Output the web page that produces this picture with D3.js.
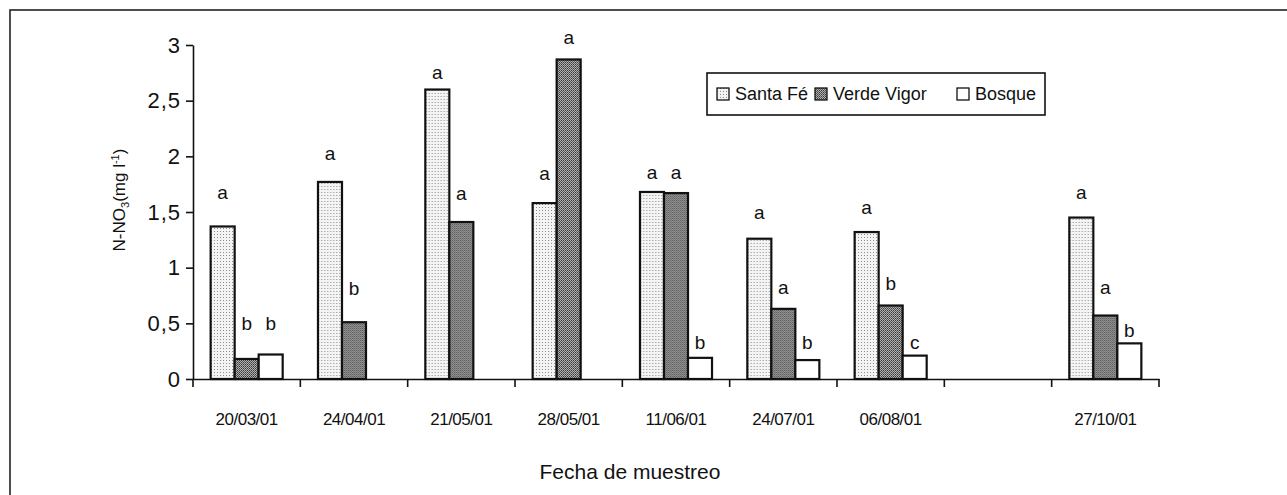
<!DOCTYPE html>
<html>
<head>
<meta charset="utf-8">
<script src="https://cdn.jsdelivr.net/npm/d3@7"></script>
<style>
  body { margin: 0; background: #fff; }
  text { font-family: "Liberation Sans", Arial, sans-serif; fill: #111; }
</style>
</head>
<body>
<script>
var width = 1287,
    height = 495;

// sampling dates (the empty one is a gap in the original chart)
var categories = ["20/03/01", "24/04/01", "21/05/01", "28/05/01", "11/06/01", "24/07/01", "06/08/01", "", "27/10/01"];
var seriesNames = ["Santa Fé", "Verde Vigor", "Bosque"];

var santaFe    = [1.37, 1.77, 2.60, 1.58, 1.68, 1.26, 1.32, 0, 1.45];
var verdeVigor = [0.18, 0.51, 1.41, 2.87, 1.67, 0.63, 0.66, 0, 0.57];
var bosque     = [0.22, 0, 0, 0, 0.19, 0.17, 0.21, 0, 0.32];

// significance letters and the height (in mg/l) where they were written
var lettersSF = ["a", "a", "a", "a", "a", "a", "a", "", "a"];
var lettersVV = ["b", "b", "a", "a", "a", "a", "b", "", "a"];
var lettersBo = ["b", "", "", "", "b", "b", "c", "", "b"];
var letterAtSF = [1.68, 2.03, 2.75, 1.85, 1.86, 1.50, 1.54, 0, 1.68];
var letterAtVV = [0.50, 0.81, 1.67, 3.07, 1.86, 0.82, 0.86, 0, 0.82];
var letterAtBo = [0.50, 0, 0, 0, 0.33, 0.33, 0.33, 0, 0.44];

var yTicks = [0, 0.5, 1, 1.5, 2, 2.5, 3];

var values = [santaFe, verdeVigor, bosque];
var letters = [lettersSF, lettersVV, lettersBo];
var letterAt = [letterAtSF, letterAtVV, letterAtBo];

var svg = d3.select("body").append("svg")
    .attr("width", width)
    .attr("height", height);

// fill patterns to mimic the printed screens
var defs = svg.append("defs");
var p1 = defs.append("pattern").attr("id", "pat-sf")
    .attr("width", 3).attr("height", 3).attr("patternUnits", "userSpaceOnUse");
p1.append("rect").attr("width", 3).attr("height", 3).attr("fill", "#f4f4f4");
p1.append("rect").attr("width", 1).attr("height", 1).attr("fill", "#8c8c8c");
var p2 = defs.append("pattern").attr("id", "pat-vv")
    .attr("width", 2).attr("height", 2).attr("patternUnits", "userSpaceOnUse");
p2.append("rect").attr("width", 2).attr("height", 2).attr("fill", "#b0b0b0");
p2.append("rect").attr("width", 1).attr("height", 1).attr("fill", "#3a3a3a");
p2.append("rect").attr("x", 1).attr("y", 1).attr("width", 1).attr("height", 1).attr("fill", "#5a5a5a");

var fills = ["url(#pat-sf)", "url(#pat-vv)", "#fff"];

// outer frame (cut off at right and bottom in the scan)
svg.append("rect")
    .attr("x", 10).attr("y", 10)
    .attr("width", 1400).attr("height", 600)
    .attr("fill", "none")
    .attr("stroke", "#222")
    .attr("stroke-width", 1.6);

var margin = { left: 193, right: 1159, top: 45, bottom: 379 };

var x = d3.scaleBand()
    .domain(d3.range(categories.length))
    .range([margin.left, margin.right]);

var x1 = d3.scaleBand()
    .domain(d3.range(seriesNames.length))
    .range([0, x.bandwidth()])
    .paddingOuter(0.735);

var y = d3.scaleLinear()
    .domain([0, 3])
    .range([margin.bottom, margin.top]);

// bars
var groups = svg.selectAll(".grp")
    .data(categories)
    .enter().append("g")
    .attr("class", "grp")
    .attr("transform", function (d, i) { return "translate(" + x(i) + ",0)"; });

groups.each(function (d, i) {
    var g = d3.select(this);
    seriesNames.forEach(function (s, k) {
        var v = values[k][i];
        if (v > 0) {
            g.append("rect")
                .attr("x", x1(k))
                .attr("y", y(v))
                .attr("width", x1.bandwidth())
                .attr("height", y(0) - y(v))
                .attr("fill", fills[k])
                .attr("stroke", "#111")
                .attr("stroke-width", 2.2);
        }
        if (letters[k][i]) {
            g.append("text")
                .attr("x", x1(k) + x1.bandwidth() / 2)
                .attr("y", y(letterAt[k][i]))
                .attr("dy", "0.35em")
                .attr("text-anchor", "middle")
                .style("font-size", "19px")
                .text(letters[k][i]);
        }
    });
});

// y axis
var yAxis = d3.axisLeft(y)
    .tickValues(yTicks)
    .tickSize(7)
    .tickSizeOuter(0)
    .tickPadding(5)
    .tickFormat(function (d) { return String(d).replace(".", ","); });

var gy = svg.append("g")
    .attr("transform", "translate(" + margin.left + ",0)")
    .call(yAxis);
gy.select(".domain").attr("stroke", "#111").attr("stroke-width", 1.6);
gy.selectAll(".tick line").attr("stroke", "#111").attr("stroke-width", 1.6);
gy.selectAll(".tick text")
    .style("font-size", "22px")
    .style("letter-spacing", "1px")
    .attr("fill", "#111");

// x axis: labels at band centres, tick marks at band edges
var xAxis = d3.axisBottom(x)
    .tickSize(0)
    .tickSizeOuter(0)
    .tickPadding(34)
    .tickFormat(function (i) { return categories[i]; });

var gx = svg.append("g")
    .attr("transform", "translate(0," + margin.bottom + ")")
    .call(xAxis);
gx.select(".domain").attr("stroke", "#111").attr("stroke-width", 1.6);
gx.selectAll(".tick text")
    .style("font-size", "17px")
    .style("letter-spacing", "-0.5px")
    .attr("fill", "#111");

var edges = d3.range(categories.length + 1).map(function (i) {
    return i < categories.length ? x(i) : x(i - 1) + x.bandwidth();
});
gx.selectAll(".edge")
    .data(edges)
    .enter().append("line")
    .attr("class", "edge")
    .attr("x1", function (d) { return d; })
    .attr("x2", function (d) { return d; })
    .attr("y1", 0)
    .attr("y2", 8)
    .attr("stroke", "#111")
    .attr("stroke-width", 1.6);

// axis titles
svg.append("text")
    .attr("x", (margin.left + margin.right) / 2 - 46)
    .attr("y", 479)
    .attr("text-anchor", "middle")
    .style("font-size", "21px")
    .text("Fecha de muestreo");

var yt = svg.append("text")
    .attr("transform", "translate(125,200) rotate(-90)")
    .attr("text-anchor", "middle")
    .style("font-size", "17px");
yt.append("tspan").text("N-NO");
yt.append("tspan").attr("dy", 4).style("font-size", "11px").text("3");
yt.append("tspan").attr("dy", -4).text("(mg l");
yt.append("tspan").attr("dy", -6).style("font-size", "11px").text("-1");
yt.append("tspan").attr("dy", 6).text(")");

// legend
var legend = svg.append("g").attr("transform", "translate(707,73)");
legend.append("rect")
    .attr("width", 338).attr("height", 42)
    .attr("fill", "#fff")
    .attr("stroke", "#111")
    .attr("stroke-width", 1.6);

var legendX = [10, 108, 250];
seriesNames.forEach(function (s, k) {
    var item = legend.append("g").attr("transform", "translate(" + legendX[k] + ",15)");
    item.append("rect")
        .attr("width", 12).attr("height", 12)
        .attr("fill", fills[k])
        .attr("stroke", "#111")
        .attr("stroke-width", 1.3);
    item.append("text")
        .attr("x", 18)
        .attr("y", 6)
        .attr("dy", "0.36em")
        .style("font-size", "18px")
        .text(s);
});
</script>
</body>
</html>
